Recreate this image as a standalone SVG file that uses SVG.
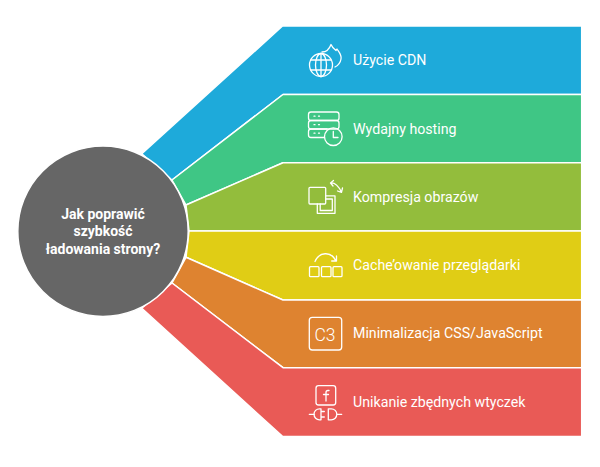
<svg xmlns="http://www.w3.org/2000/svg" width="600" height="467" viewBox="0 0 600 467">
<style>
.band{stroke:#fff;stroke-width:1.5;stroke-linejoin:round}
.lbl{font:400 14.2px Roboto,"Liberation Sans",sans-serif;fill:#fff}
.ctr{font:700 14px Roboto,"Liberation Sans",sans-serif;fill:#fff;text-anchor:middle}
.ic{fill:none;stroke:#fff;stroke-width:1.3;stroke-linecap:round;stroke-linejoin:round}
</style>
<rect width="600" height="467" fill="#fff"/>
<g id="connectors">
<polygon class="band" fill="#1eaada" points="282.5,26 581.7,26 581.7,94.5 283,94.5 172,180 141.8,153.8"/>
<polygon class="band" fill="#3fc685" points="283,94.5 581.7,94.5 581.7,162.7 283,162.7 186,205 172,180"/>
<polygon class="band" fill="#93bd3c" points="283,162.7 581.7,162.7 581.7,231 189,231 186,205"/>
<polygon class="band" fill="#e0cd15" points="189,231 581.7,231 581.7,300 283,300 186,257.3"/>
<polygon class="band" fill="#de8330" points="186,257.3 283,300 581.7,300 581.7,367.7 283,367.7 172,283"/>
<polygon class="band" fill="#e95a56" points="172,283 283,367.7 581.7,367.7 581.7,436.4 282.5,436.4 141.8,308.2"/>
</g>
<g id="node-center">
<circle cx="103" cy="231.2" r="85.2" fill="#666" stroke="#fff" stroke-width="1.5"/>
<text class="ctr" x="103" y="219">Jak poprawić</text>
<text class="ctr" x="103" y="236">szybkość</text>
<text class="ctr" x="103" y="253.500">ładowania strony?</text>
</g>
<g id="node-cdn">
<g class="ic">
<circle cx="321" cy="65" r="11.500"/>
<ellipse cx="321" cy="65" rx="5.500" ry="11.500"/>
<path d="M321 53.500V76.500M311 60H331M311 70H331"/>
<path d="M322 52C325 52 329 50 331 44.500C332 47 334 49 336 50.500L337 49C339 52 342 55 341 59C340.500 62 338 65.500 335 67"/>
</g>
<text class="lbl" x="353" y="65">Użycie CDN</text>
</g>
<g id="node-hosting">
<g class="ic">
<rect x="308.500" y="112" width="30.500" height="8.500" rx="2.500"/>
<rect x="308.500" y="120.500" width="30.500" height="8.500" rx="2.500"/>
<path d="M324.500 137.500H311a2.500 2.500 0 0 1-2.500-2.500V131.500a2.500 2.500 0 0 1 2.500-2.500H327"/>
<circle cx="333.300" cy="136.700" r="8.800"/>
<path d="M333.300 131.500V137.500H338"/>
<path d="M314 116.200H315M318.500 116.200H319.500M314 124.700H315M318.500 124.700H319.500M314 133.200H315M318.500 133.200H319.500"/>
</g>
<text class="lbl" x="353" y="134">Wydajny hosting</text>
</g>
<g id="node-images">
<g class="ic">
<rect x="309" y="187.300" width="16.700" height="16.700" rx="1"/>
<path d="M325.700 195.800H335V213.300H317.300V204"/>
<path d="M325.700 199H332.300V210.500H320.200V204"/>
<path d="M330.500 183C335 182.500 339 187 341.500 192.300M330.500 183L333.500 180.500M330.500 183L333 186M341.500 192.300L342.500 188M341.500 192.300L337.500 191"/>
</g>
<text class="lbl" x="353" y="202">Kompresja obrazów</text>
</g>
<g id="node-cache">
<g class="ic">
<rect x="309.500" y="266.700" width="9.500" height="10" rx="1"/>
<rect x="321.500" y="266.700" width="9.500" height="10" rx="1"/>
<rect x="333" y="266.700" width="9" height="10" rx="1"/>
<path d="M315 261.500C319 252 331 250.500 336 261M336.500 256V261H331.700"/>
</g>
<text class="lbl" x="353" y="270">Cache’owanie przeglądarki</text>
</g>
<g id="node-css">
<g class="ic">
<rect x="309.300" y="317.300" width="32.400" height="32.700" rx="3"/>
</g>
<text x="314.500" y="340.700" style="font:300 17.500px Roboto,'Liberation Sans',sans-serif;fill:#fff">C3</text>
<text class="lbl" x="353" y="338">Minimalizacja CSS/JavaScript</text>
</g>
<g id="node-plugins">
<g class="ic">
<rect x="316" y="385.700" width="19.700" height="19.300" rx="2.500"/>
<path d="M329 390.500H328a2 2 0 0 0-2 2V401M323.500 394.500H328.500"/>
<path d="M309.300 414.300H314.500M321 408.800h-1.500a5.500 5.500 0 0 0 0 11H321zM321 411.500h3.300M321 417h3.300"/>
<path d="M328.300 408.800h3a5.500 5.500 0 0 1 0 11h-3zM336.800 414.300H341.700"/>
</g>
<text class="lbl" x="353" y="406.500">Unikanie zbędnych wtyczek</text>
</g>
</svg>
